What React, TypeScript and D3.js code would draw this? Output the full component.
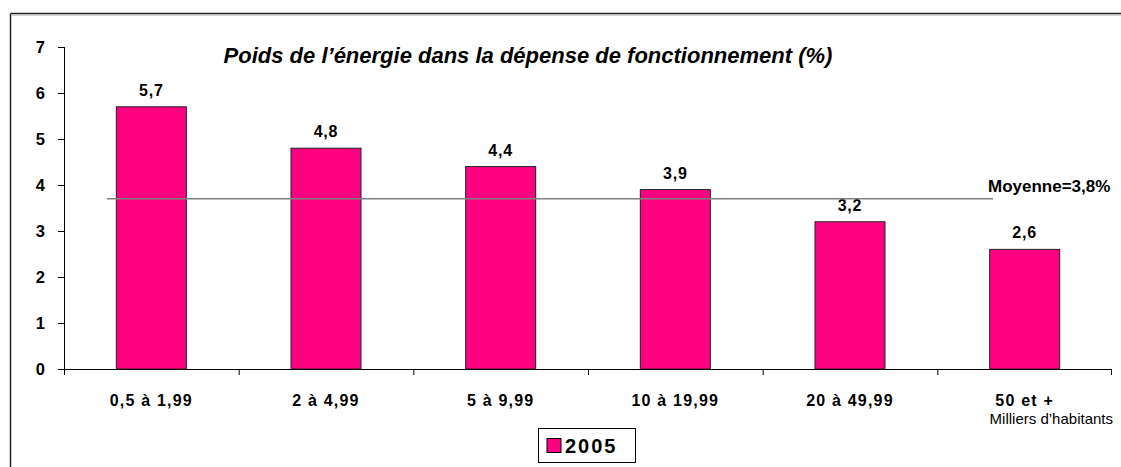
import React from "react";
import * as d3 from "d3";

const categories = ["0,5 à 1,99", "2 à 4,99", "5 à 9,99", "10 à 19,99", "20 à 49,99", "50 et +"];
const values2005 = [5.7, 4.8, 4.4, 3.9, 3.2, 2.6];
const valueLabels = ["5,7", "4,8", "4,4", "3,9", "3,2", "2,6"];
const yTicks = [0, 1, 2, 3, 4, 5, 6, 7];
const meanValue = 3.7;
const meanLabel = "Moyenne=3,8%";
const seriesName = "2005";
const title = "Poids de l’énergie dans la dépense de fonctionnement (%)";
const xUnit = "Milliers d’habitants";

const W = 1121;
const H = 467;
const FONT = "'Liberation Sans', Arial, sans-serif";
const BAR = "#FF0080";

export default function App() {
  const band = d3.scaleBand<string>().domain(categories).range([64, 1112]);
  const y = d3.scaleLinear().domain([0, 7]).range([369, 47]);
  const bw = 70;
  return (
    <svg width={W} height={H} style={{ position: "absolute", left: 0, top: 0 }} fontFamily={FONT}>
      <rect x={0} y={0} width={W} height={H} fill="#fff" />
      {/* outer frame */}
      <line x1={10.5} y1={13.5} x2={W} y2={13.5} stroke="#222" strokeWidth={1.5} />
      <line x1={10.5} y1={13.5} x2={10.5} y2={H} stroke="#222" strokeWidth={1.5} />
      <line x1={11} y1={15} x2={W} y2={15} stroke="#aaa" strokeWidth={1} />
      {/* title */}
      <text x={528} y={63} textAnchor="middle" fontSize={22} fontWeight="bold" fontStyle="italic">{title}</text>
      {/* y axis */}
      <line x1={64.5} y1={y(7)} x2={64.5} y2={y(0)} stroke="#000" />
      {yTicks.map((t) => (
        <g key={t}>
          <line x1={58} x2={64.5} y1={Math.round(y(t)) + 0.5} y2={Math.round(y(t)) + 0.5} stroke="#000" />
          <text x={45} y={y(t) + 6} textAnchor="end" fontSize={16.5} fontWeight="bold">{t}</text>
        </g>
      ))}
      {/* bars */}
      {categories.map((c, i) => {
        const cx = (band(c) as number) + band.bandwidth() / 2;
        return (
          <g key={c}>
            <rect x={cx - bw / 2} y={y(values2005[i])} width={bw} height={y(0) - y(values2005[i])} fill={BAR} stroke="#222" strokeWidth={1} />
            <text x={cx} y={y(values2005[i]) - 11} textAnchor="middle" fontSize={16} fontWeight="bold" letterSpacing={0.8}>{valueLabels[i]}</text>
            <text x={cx} y={406} textAnchor="middle" fontSize={16} fontWeight="bold" letterSpacing={1.2}>{c}</text>
          </g>
        );
      })}
      {/* x axis */}
      <line x1={64} x2={1112} y1={369.5} y2={369.5} stroke="#000" />
      {categories.map((c, i) => (
        <line key={"t" + i} x1={(band(c) as number) + 0.5} x2={(band(c) as number) + 0.5} y1={369.5} y2={375} stroke="#000" />
      ))}
      <line x1={1111.5} x2={1111.5} y1={369.5} y2={375} stroke="#000" />
      <text x={1113} y={424} textAnchor="end" fontSize={15}>{xUnit}</text>
      {/* mean line */}
      <line x1={107} x2={993} y1={y(meanValue)} y2={y(meanValue)} stroke="#808080" strokeWidth={1.5} />
      <text x={988} y={192} fontSize={17} fontWeight="bold">{meanLabel}</text>
      {/* legend */}
      <rect x={538.5} y={428.5} width={97} height={34} fill="#fff" stroke="#000" />
      <rect x={547} y={438.5} width={14} height={14} fill={BAR} stroke="#000" />
      <text x={565} y={453} fontSize={20} fontWeight="bold" letterSpacing={2}>{seriesName}</text>
    </svg>
  );
}
